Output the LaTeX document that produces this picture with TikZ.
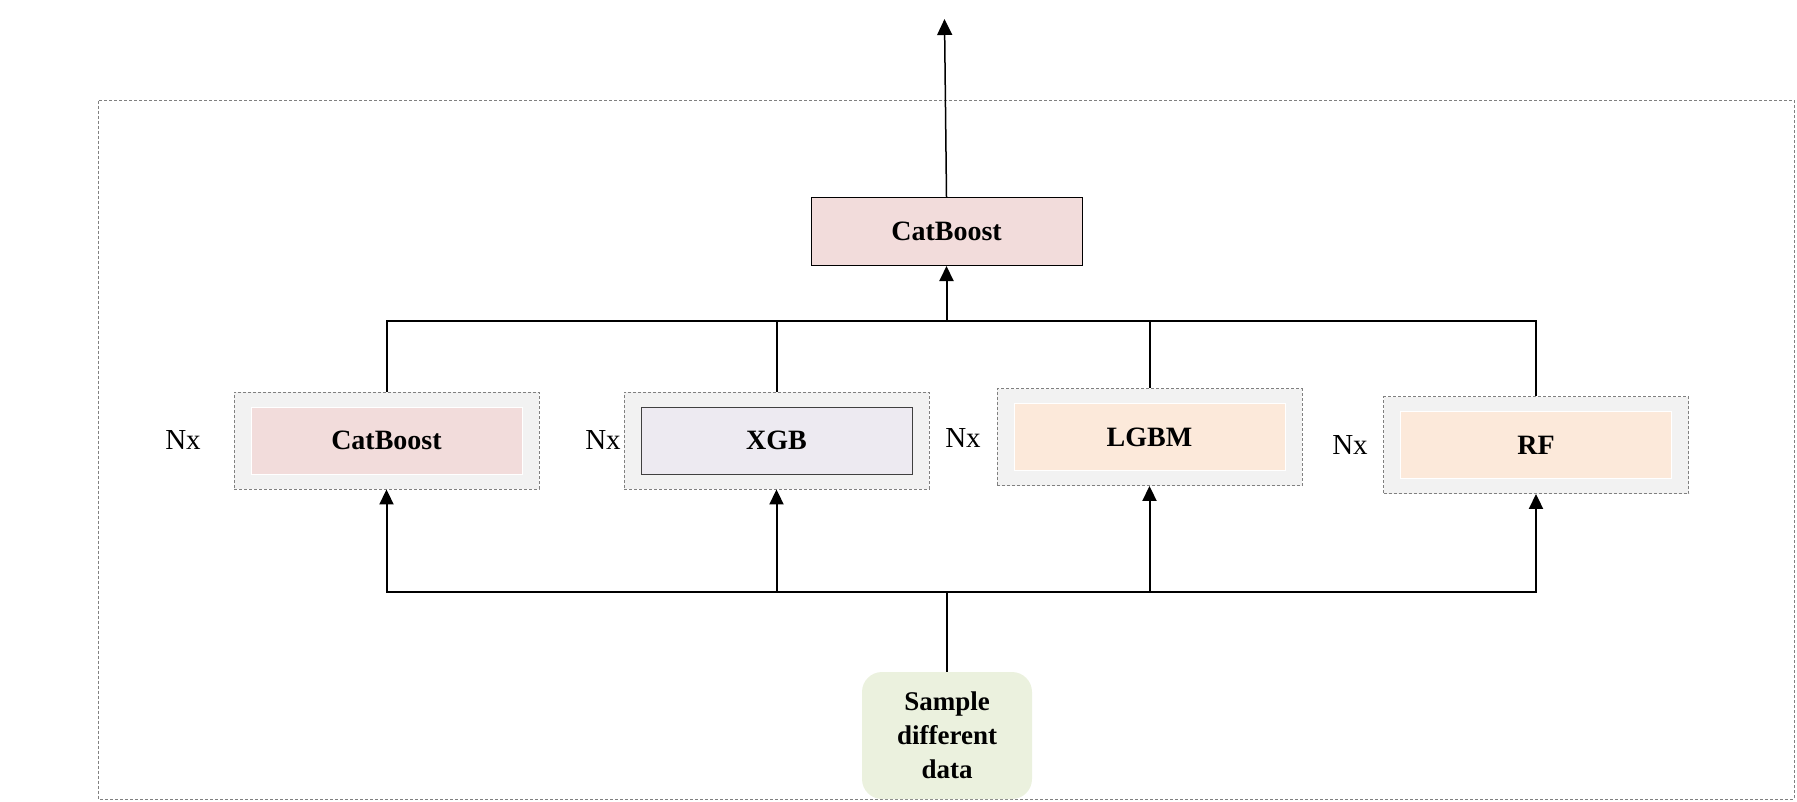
\documentclass[tikz,border=0pt]{standalone}
\usepackage{fontspec}
\setmainfont{Liberation Serif}
\usetikzlibrary{positioning,arrows.meta}
\definecolor{mypink}{RGB}{242,220,219}
\definecolor{mylilac}{RGB}{237,234,241}
\definecolor{mypeach}{RGB}{252,233,218}
\definecolor{mygrey}{RGB}{242,242,242}
\definecolor{mygreen}{RGB}{235,241,222}

\begin{document}
\begin{tikzpicture}[x=1pt,y=-1pt,
  outerbox/.style={draw=black!50,dash pattern=on 3pt off 2pt,line width=0.9pt,fill=mygrey,
    minimum width=305pt,minimum height=97pt,inner sep=0pt},
  modelbox/.style={draw=white,line width=1pt,fill=#1,minimum width=271pt,minimum height=67pt,
    inner sep=0pt,font=\fontsize{28}{34}\selectfont\bfseries},
  nxlabel/.style={font=\fontsize{29}{34}\selectfont},
  link/.style={line width=2pt},
  tip/.style={line width=2pt,-{Triangle[length=15pt,width=14pt]}}
]
\useasboundingbox (0,0) rectangle (1797,801);

% the frame
\draw[gray,line width=1pt,dash pattern=on 3pt off 2pt] (98.5,100.5) rectangle (1794,799);

% the meta model
\node[draw=black,line width=1pt,fill=mypink,minimum width=271pt,minimum height=68pt,inner sep=0pt,
  font=\fontsize{28}{34}\selectfont\bfseries] (top) at (946.5,231.5) {CatBoost};
\coordinate (out) at (944.5,19);

% the base models
\node[outerbox] (cbbox) at (386.5,440.5) {};
\node[modelbox=mypink] (cb) at (cbbox.center) {CatBoost};
\node[outerbox] (xgbbox) at (776.5,440.5) {};
\node[modelbox=mylilac,draw=black!75] (xgb) at (xgbbox.center) {XGB};
\node[outerbox] (lgbmbox) at (1149.5,437) {};
\node[modelbox=mypeach] (lgbm) at (lgbmbox.center) {LGBM};
\node[outerbox] (rfbox) at (1536,445) {};
\node[modelbox=mypeach] (rf) at (rfbox.center) {RF};

\node[nxlabel] (nxa) at (183,440) {Nx};
\node[nxlabel] (nxb) at (603,440) {Nx};
\node[nxlabel] (nxc) at (963,438) {Nx};
\node[nxlabel] (nxd) at (1350,445) {Nx};

% the data
\node[fill=mygreen,rounded corners=20pt,minimum width=170pt,minimum height=127pt,inner sep=0pt,
  align=center,font=\fontsize{27}{34}\selectfont\bfseries] (data) at (947,735.5) {Sample\\different\\data};

\coordinate (merge) at (946.5,321);
\coordinate (split) at (947,592);

% the edges
\draw[line width=1.5pt,-{Triangle[length=16pt,width=15pt]}] (top.north) -- (out);
\draw[link] (cbbox.north) |- (merge);
\draw[link] (xgbbox.north) |- (merge);
\draw[link] (lgbmbox.north) |- (merge);
\draw[link] (rfbox.north) |- (merge);
\draw[tip] (merge) -- (top.south);

\draw[link] (data.north) -- (split);
\draw[tip] (split) -| (cbbox.south);
\draw[tip] (split) -| (xgbbox.south);
\draw[tip] (split) -| (lgbmbox.south);
\draw[tip] (split) -| (rfbox.south);
\end{tikzpicture}
\end{document}
